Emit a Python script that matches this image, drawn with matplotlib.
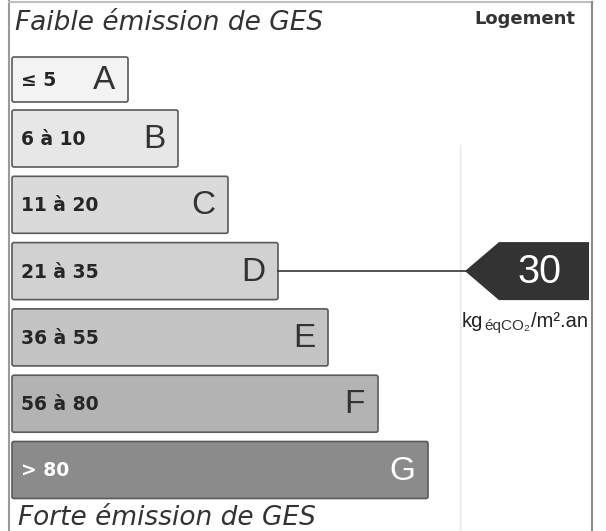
import matplotlib.pyplot as plt
from matplotlib.patches import FancyBboxPatch, Polygon

# --- data ---
classes = ['A', 'B', 'C', 'D', 'E', 'F', 'G']
ranges = ['≤ 5', '6 à 10', '11 à 20', '21 à 35', '36 à 55', '56 à 80', '> 80']
upper = [5, 10, 20, 35, 55, 80, 1e9]
colors = ['#f3f3f3', '#e7e7e7', '#dadada', '#d1d1d1', '#c4c4c4', '#b3b3b3', '#8b8b8b']
value = 30
unit_top = 'Logement'
title_top = 'Faible émission de GES'
title_bottom = 'Forte émission de GES'

# which class holds the value
idx = next(i for i, u in enumerate(upper) if value <= u)

W, H = 606, 531
fig = plt.figure(figsize=(W / 100, H / 100), dpi=100)
ax = fig.add_axes([0, 0, 1, 1])
ax.set_xlim(0, W)
ax.set_ylim(H, 0)
ax.axis('off')

# --- frame ---
ax.plot([9, 9], [0, H], color='#9a9a9a', lw=1.5)
ax.plot([9, 592], [2, 2], color='#c0c0c0', lw=1.5)
ax.plot([592, 592], [2, H], color='#8a8a8a', lw=1.5)
ax.plot([460, 460], [145, H], color='#e8e8e8', lw=1)

# --- bars ---
x0 = 12
top0, pitch = 57, 66.3
for i, (cl, rg, c) in enumerate(zip(classes, ranges, colors)):
    h = 45 if i == 0 else 57
    y = top0 if i == 0 else 110 + (i - 1) * pitch
    w = 116 + 50 * i
    bar = FancyBboxPatch((x0, y), w, h, boxstyle='round,pad=0,rounding_size=2',
                         fc=c, ec='#5a5a5a', lw=1.2)
    ax.add_patch(bar)
    yc = y + h / 2
    tc = 'white' if cl == 'G' else '#262626'
    lc = 'white' if cl == 'G' else '#333333'
    ax.text(x0 + 9, yc + 1, rg, fontsize=13.5, fontweight='bold',
            family='DejaVu Sans', color=tc, va='center', ha='left')
    ax.text(x0 + w - 13, yc + 1, cl, fontsize=24, family='Liberation Sans',
            color=lc, va='center', ha='right')
    if i == idx:
        # connector line and value arrow
        ax.plot([x0 + w, 466], [yc, yc], color='#333333', lw=1.2)
        ax.add_patch(Polygon([(465, yc), (499, yc - 29), (589, yc - 29),
                              (589, yc + 29), (499, yc + 29)],
                             closed=True, fc='#333333', ec='none'))
        ax.text(539, yc + 1, str(value), fontsize=28.5, family='Liberation Sans',
                color='white', va='center', ha='center')
        base = yc + 56
        t1 = ax.text(462, base, 'kg', fontsize=14.5, family='Liberation Sans',
                     color='#222222', va='baseline', ha='left')
        t2 = ax.annotate('éqCO₂', xy=(1, base + 3), xycoords=(t1, 'data'),
                         xytext=(0.5, 0), textcoords='offset points', fontsize=11,
                         family=['Liberation Sans', 'DejaVu Sans'],
                         color='#333333', va='baseline')
        ax.annotate('/m².an', xy=(1, base), xycoords=(t2, 'data'),
                    xytext=(0.5, 0), textcoords='offset points', fontsize=14.5,
                    family='Liberation Sans', color='#222222', va='baseline')

# --- titles ---
ax.text(15, 23, title_top, fontsize=19, style='italic', family='DejaVu Sans',
        color='#333333', va='center', ha='left')
ax.text(18, 518, title_bottom, fontsize=19, style='italic', family='DejaVu Sans',
        color='#333333', va='center', ha='left')
ax.text(575, 19, unit_top, fontsize=13, fontweight='bold', family='DejaVu Sans',
        color='#333333', va='center', ha='right')

fig.savefig('out.png', dpi=100)
